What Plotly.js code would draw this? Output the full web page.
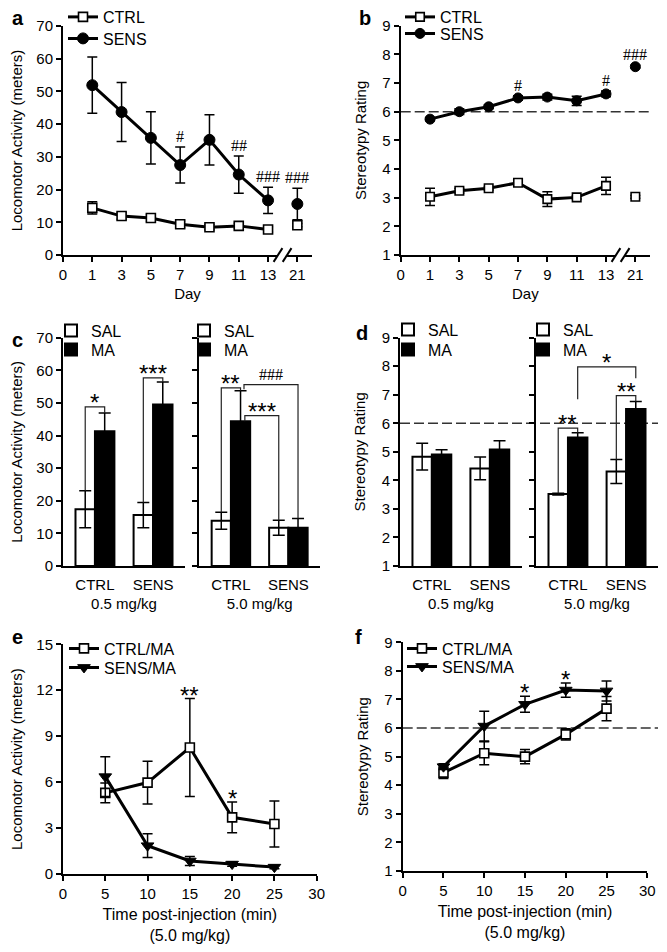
<!DOCTYPE html>
<html><head><meta charset="utf-8">
<script src="https://cdn.plot.ly/plotly-3.0.1.min.js"></script>
<style>html,body{margin:0;padding:0;background:#fff}#chart{width:667px;height:952px}</style>
</head><body><div id="chart"></div>
<script>
// ---------- DATA ----------
const dayTicks = ['0','1','3','5','7','9','11','13','21'];
const days = [1,3,5,7,9,11,13,21];
const breakAfterDay = 13;
// panel a: locomotor activity (meters)
const locoCtrl    = [14.4,11.9,11.3,9.4,8.5,8.9,7.8,9.1];
const locoCtrlErr = [1.9,1.0,1.0,1.0,0.8,0.8,0.8,0.5];
const locoSens    = [51.9,43.7,35.8,27.5,35.2,24.6,16.7,15.6];
const locoSensErr = [8.6,9.0,8.0,5.5,7.7,5.7,4.0,4.8];
const aSigDays = [7,11,13,21];
const aSigText = ['#','##','###','###'];
// panel b: stereotypy rating
const stereoCtrl    = [3.03,3.24,3.33,3.52,2.95,3.01,3.41,3.03];
const stereoCtrlErr = [0.3,0.08,0.06,0.06,0.26,0.06,0.3,0.05];
const stereoSens    = [5.74,6.0,6.17,6.48,6.51,6.38,6.62,7.57];
const stereoSensErr = [0.05,0.1,0.06,0.08,0.1,0.16,0.1,0.05];
const bSigDays = [7,13,21];
const bSigText = ['#','#','###'];
const stereoThreshold = 6;
// panels c, d
const groups = ['CTRL','SENS'];
const doses = ['0.5 mg/kg','5.0 mg/kg'];
const cSal05 = [17.4,15.6], cSal05Err = [5.7,3.9];
const cMa05  = [41.3,49.5], cMa05Err  = [5.6,6.9];
const cSal50 = [13.9,11.7], cSal50Err = [2.6,2.3];
const cMa50  = [44.4,11.7], cMa50Err  = [9.3,2.9];
const dSal05 = [4.83,4.42], dSal05Err = [0.47,0.40];
const dMa05  = [4.91,5.08], dMa05Err  = [0.16,0.31];
const dSal50 = [3.52,4.31], dSal50Err = [0.03,0.42];
const dMa50  = [5.50,6.50], dMa50Err  = [0.17,0.26];
// panels e, f
const minutes = [5,10,15,20,25];
const eCtrl = [5.3,5.97,8.26,3.7,3.27],  eCtrlErr = [0.65,1.4,3.2,1.0,1.5];
const eSens = [6.36,1.85,0.85,0.65,0.45], eSensErr = [1.3,0.78,0.3,0.15,0.1];
const eSigMin = [15,20], eSigText = ['**','*'];
const fCtrl = [4.44,5.12,5.0,5.78,6.68], fCtrlErr = [0.2,0.4,0.25,0.2,0.42];
const fSens = [4.65,6.07,6.83,7.33,7.30], fSensErr = [0.1,0.52,0.28,0.25,0.35];
const fSigMin = [15,20], fSigText = ['*','*'];

// ---------- LAYOUT HELPERS ----------
const W = 667, H = 952;
const FONT = 'Liberation Sans, Arial, sans-serif';
const SERIF = 'Liberation Serif, Times New Roman, serif';
const FS = 15;
const dx = v => v / W, dy = v => 1 - v / H;
const domX = (a, b) => [dx(a), dx(b)];
const domY = (top, bot) => [dy(bot), dy(top)];

const axBase = {showline:true, linecolor:'#000', linewidth:2, ticks:'outside', ticklen:5, tickwidth:2,
  tickcolor:'#000', showgrid:false, zeroline:false, fixedrange:true,
  tickfont:{family:FONT, size:FS, color:'#000'}};
const titleFont = {family:FONT, size:FS, color:'#000'};
const ax = (o) => Object.assign({}, axBase, o);

const SQ = {symbol:'square', size:9, color:'#fff', line:{color:'#000', width:1.6}};
const CI = {symbol:'circle', size:11, color:'#000', line:{color:'#000', width:1}};
const TR = {symbol:'triangle-down', size:11, color:'#000', line:{color:'#000', width:1}};
const errStyle = (arr, w) => ({type:'data', array:arr, visible:true, color:'#000', thickness:1.5, width:w});

const traces = [];
let legendCount = 0;
const nextLegend = () => { legendCount++; return legendCount === 1 ? 'legend' : 'legend' + legendCount; };
const dayPos = d => dayTicks.indexOf(String(d));
const nPre = days.filter(d => d <= breakAfterDay).length;
function dayTraces(xa, ya, name, yv, ev, marker) {
  const xs = days.map(dayPos), leg = nextLegend();
  traces.push({type:'scatter', mode:'lines+markers', name, legend:leg, xaxis:xa, yaxis:ya,
    x:xs.slice(0,nPre), y:yv.slice(0,nPre), error_y:errStyle(ev.slice(0,nPre),5),
    line:{color:'#000', width:3}, marker});
  traces.push({type:'scatter', mode:'markers', name, legend:leg, xaxis:xa, yaxis:ya, showlegend:false,
    x:xs.slice(nPre), y:yv.slice(nPre), error_y:errStyle(ev.slice(nPre),5), marker});
}
function timeTraces(xa, ya, name, yv, ev, marker) {
  traces.push({type:'scatter', mode:'lines+markers', name, legend:nextLegend(), xaxis:xa, yaxis:ya,
    x:minutes, y:yv, error_y:errStyle(ev,5), line:{color:'#000', width:3}, marker});
}
const grpX = groups.map((g,i) => i);
function barTraces(xa, ya, sal, salE, ma, maE) {
  traces.push({type:'bar', name:'SAL', legend:nextLegend(), xaxis:xa, yaxis:ya, x:grpX, y:sal,
    error_y:errStyle(salE,6), marker:{color:'#fff', line:{color:'#000', width:2}}});
  traces.push({type:'bar', name:'MA', legend:nextLegend(), xaxis:xa, yaxis:ya, x:grpX, y:ma,
    error_y:errStyle(maE,6), marker:{color:'#000', line:{color:'#000', width:2}}});
}

dayTraces('x','y','CTRL',locoCtrl,locoCtrlErr,SQ);
dayTraces('x','y','SENS',locoSens,locoSensErr,CI);
dayTraces('x2','y2','CTRL',stereoCtrl,stereoCtrlErr,Object.assign({},SQ,{size:8.5}));
dayTraces('x2','y2','SENS',stereoSens,stereoSensErr,Object.assign({},CI,{size:10}));
barTraces('x3','y3',cSal05,cSal05Err,cMa05,cMa05Err);
barTraces('x4','y4',cSal50,cSal50Err,cMa50,cMa50Err);
barTraces('x5','y5',dSal05,dSal05Err,dMa05,dMa05Err);
barTraces('x6','y6',dSal50,dSal50Err,dMa50,dMa50Err);
timeTraces('x7','y7','CTRL/MA',eCtrl,eCtrlErr,SQ);
timeTraces('x7','y7','SENS/MA',eSens,eSensErr,TR);
timeTraces('x8','y8','CTRL/MA',fCtrl,fCtrlErr,SQ);
timeTraces('x8','y8','SENS/MA',fSens,fSensErr,TR);

// ---------- AXES ----------
const dayX = (d, anchor) => ax({domain:d, anchor, range:[0,8.5], tickmode:'array', tickvals:dayTicks.map((t,i)=>i),
  ticktext:dayTicks, title:{text:'Day', font:titleFont, standoff:6}});
const barX = (d, anchor, dose) => ax({domain:d, anchor, range:[-0.55,1.55], tickmode:'array', tickvals:grpX,
  ticktext:groups, ticks:'', ticklabelstandoff:4, title:{text:dose, font:titleFont, standoff:6}});
const timeX = (d, anchor) => ax({domain:d, anchor, range:[0,30], dtick:5, tick0:0,
  title:{text:'Time post-injection (min)<br>(5.0 mg/kg)', font:Object.assign({}, titleFont, {size:16}), standoff:8}});
const yAx = (d, anchor, range, dtick, title, standoff, labels) => ax({domain:d, anchor, range, dtick, tick0:0,
  showticklabels: labels !== false, title: title ? {text:title, font:titleFont, standoff} : undefined});

const LOCO = 'Locomotor Activity (meters)', STER = 'Stereotypy Rating';
const layout = {
  width:W, height:H, margin:{l:0,r:0,t:0,b:0}, paper_bgcolor:'#fff', plot_bgcolor:'rgba(0,0,0,0)',
  font:{family:FONT, size:FS, color:'#000'}, showlegend:true,
  barmode:'group', bargap:0.33, bargroupgap:0,
  xaxis:  dayX(domX(63,312),'y'),
  yaxis:  yAx(domY(26,255),'x',[0,70],10,LOCO,10),
  xaxis2: dayX(domX(400.7,650),'y2'),
  yaxis2: yAx(domY(25.7,255),'x2',[1,9],1,STER,12),
  xaxis3: barX(domX(63,185),'y3',doses[0]),
  yaxis3: yAx(domY(337.7,566),'x3',[0,70],10,LOCO,10),
  xaxis4: barX(domX(199.3,320),'y4',doses[1]),
  yaxis4: yAx(domY(337.7,566),'x4',[0,70],10,null,0,false),
  xaxis5: barX(domX(400,521.7),'y5',doses[0]),
  yaxis5: yAx(domY(337.7,566),'x5',[1,9],1,STER,12),
  xaxis6: barX(domX(536,658),'y6',doses[1]),
  yaxis6: yAx(domY(337.7,566),'x6',[1,9],1,null,0,false),
  xaxis7: timeX(domX(63,316.7),'y7'),
  yaxis7: yAx(domY(644.3,874),'x7',[0,15],3,LOCO,10),
  xaxis8: timeX(domX(402.7,647.3),'y8'),
  yaxis8: yAx(domY(642.3,871),'x8',[1,9],1,STER,12),
  shapes:[], annotations:[]
};
// one legend per entry so each row sits where the reference puts it: [text left x, row centre y]
const legendRows = [[103,15],[103,37],[440,15],[440,32],[91,329],[91,348],[224,329],[224,348],
  [428,328],[428,348],[563,328],[563,348],[104,647],[104,666],[442,647],[442,665]];
legendRows.forEach(([xt, yc], i) => {
  layout[i === 0 ? 'legend' : 'legend' + (i+1)] = {xanchor:'left', yanchor:'top', bgcolor:'rgba(0,0,0,0)', borderwidth:0,
    font:{family:FONT, size:16, color:'#000'}, itemwidth:30, x:dx(xt-40), y:dy(yc-15.5)};
});

// ---------- DECORATIONS ----------
const dashLine = {color:'#333', width:1.5, dash:'10px,4px'};
layout.shapes.push({type:'line', xref:'x2 domain', x0:0, x1:1, yref:'y2', y0:stereoThreshold, y1:stereoThreshold, line:dashLine, layer:'below'});
layout.shapes.push({type:'line', xref:'paper', x0:dx(400), x1:dx(658), yref:'y6', y0:stereoThreshold, y1:stereoThreshold, line:dashLine, layer:'below'});
layout.shapes.push({type:'line', xref:'paper', x0:dx(402.7), x1:dx(658), yref:'y8', y0:stereoThreshold, y1:stereoThreshold, line:dashLine, layer:'below'});

// axis breaks between 13 and 21
function axisBreak(xa, ya) {
  const p1 = 7.34, p2 = 7.65, hx = 0.15, hy = 0.03;
  layout.shapes.push({type:'rect', xref:xa, yref:ya+' domain', x0:p1, x1:p2, y0:-0.015, y1:0.012,
    fillcolor:'#fff', line:{width:0}});
  [p1,p2].forEach(p => layout.shapes.push({type:'line', xref:xa, yref:ya+' domain',
    x0:p-hx, x1:p+hx, y0:-hy, y1:hy, line:{color:'#000', width:2}}));
}
axisBreak('x','y'); axisBreak('x2','y2');

// significance marks on line panels
const hashAnn = (xa, ya, x, y, text) => ({xref:xa, yref:ya, x, y, text, showarrow:false, yanchor:'bottom', yshift:0,
  font:{family:SERIF, size:16, color:'#000'}});
const starAnn = (xa, ya, x, y, text, shift) => ({xref:xa, yref:ya, x, y, text, showarrow:false, yanchor:'bottom', yshift:shift,
  font:{family:FONT, size:24, color:'#000'}});
aSigDays.forEach((d,i) => { const k = days.indexOf(d);
  layout.annotations.push(hashAnn('x','y',dayPos(d),locoSens[k]+locoSensErr[k],aSigText[i])); });
bSigDays.forEach((d,i) => { const k = days.indexOf(d);
  layout.annotations.push(hashAnn('x2','y2',dayPos(d),stereoSens[k]+stereoSensErr[k],bSigText[i])); });
eSigMin.forEach((m,i) => { const k = minutes.indexOf(m);
  layout.annotations.push(starAnn('x7','y7',m,eCtrl[k]+eCtrlErr[k],eSigText[i],-12)); });
fSigMin.forEach((m,i) => { const k = minutes.indexOf(m);
  layout.annotations.push(starAnn('x8','y8',m,fSens[k]+fSensErr[k],fSigText[i],-12)); });

// comparison brackets on bar panels
const half = (1 - layout.bargap) / 4;
const barSets = {
  3:{SAL:[cSal05,cSal05Err], MA:[cMa05,cMa05Err]},
  4:{SAL:[cSal50,cSal50Err], MA:[cMa50,cMa50Err]},
  6:{SAL:[dSal50,dSal50Err], MA:[dMa50,dMa50Err]}
};
function barTop(n, g, s, useErr) { const v = barSets[n][s]; return v[0][g] + (useErr ? v[1][g] : 0); }
const brackets = [
  {n:3, a:[0,'SAL'], b:[0,'MA'], top:48.8, text:'*'},
  {n:3, a:[1,'SAL'], b:[1,'MA'], top:57.7, text:'***'},
  {n:4, a:[0,'SAL'], b:[0,'MA'], top:54.6, text:'**'},
  {n:4, a:[0,'MA',0.06,54.2], b:[1,'MA'], top:55.6, text:'###'},
  {n:4, a:[0,'MA',0.075,'bar'], b:[1,'SAL'], top:46.1, text:'***'},
  {n:6, a:[0,'SAL'], b:[0,'MA'], top:5.83, text:'**'},
  {n:6, a:[1,'SAL'], b:[1,'MA'], top:6.97, text:'**'},
  {n:6, a:[0,'MA',0,6.84], b:[1,'MA',0,7.58], top:7.98, text:'*'}
];
brackets.forEach(br => {
  const end = ([g, s, off, bot]) => {
    const x = g + (s === 'SAL' ? -half : half) + (off || 0);
    const y = (typeof bot === 'number') ? bot : barTop(br.n, g, s, bot !== 'bar');
    return [x, y];
  };
  const [x0, y0] = end(br.a), [x1, y1] = end(br.b);
  const xa = 'x' + br.n, ya = 'y' + br.n;
  layout.shapes.push({type:'path', xref:xa, yref:ya, path:`M${x0},${y0} L${x0},${br.top} L${x1},${br.top} L${x1},${y1}`,
    line:{color:'#222', width:1.2}});
  const isHash = br.text[0] === '#';
  layout.annotations.push(isHash ? hashAnn(xa, ya, (x0+x1)/2, br.top, br.text)
                                 : starAnn(xa, ya, (x0+x1)/2, br.top, br.text, -11));
});

// panel letters
[['a',18,18],['b',365,18],['c',17,340],['d',362,333],['e',17,637],['f',358,637]].forEach(([t,x,y]) =>
  layout.annotations.push({xref:'paper', yref:'paper', x:dx(x), y:dy(y), text:'<b>'+t+'</b>', showarrow:false,
    xanchor:'center', yanchor:'middle', font:{family:FONT, size:20, color:'#000'}}));

Plotly.newPlot('chart', traces, layout, {staticPlot:true, displayModeBar:false});
</script></body></html>
